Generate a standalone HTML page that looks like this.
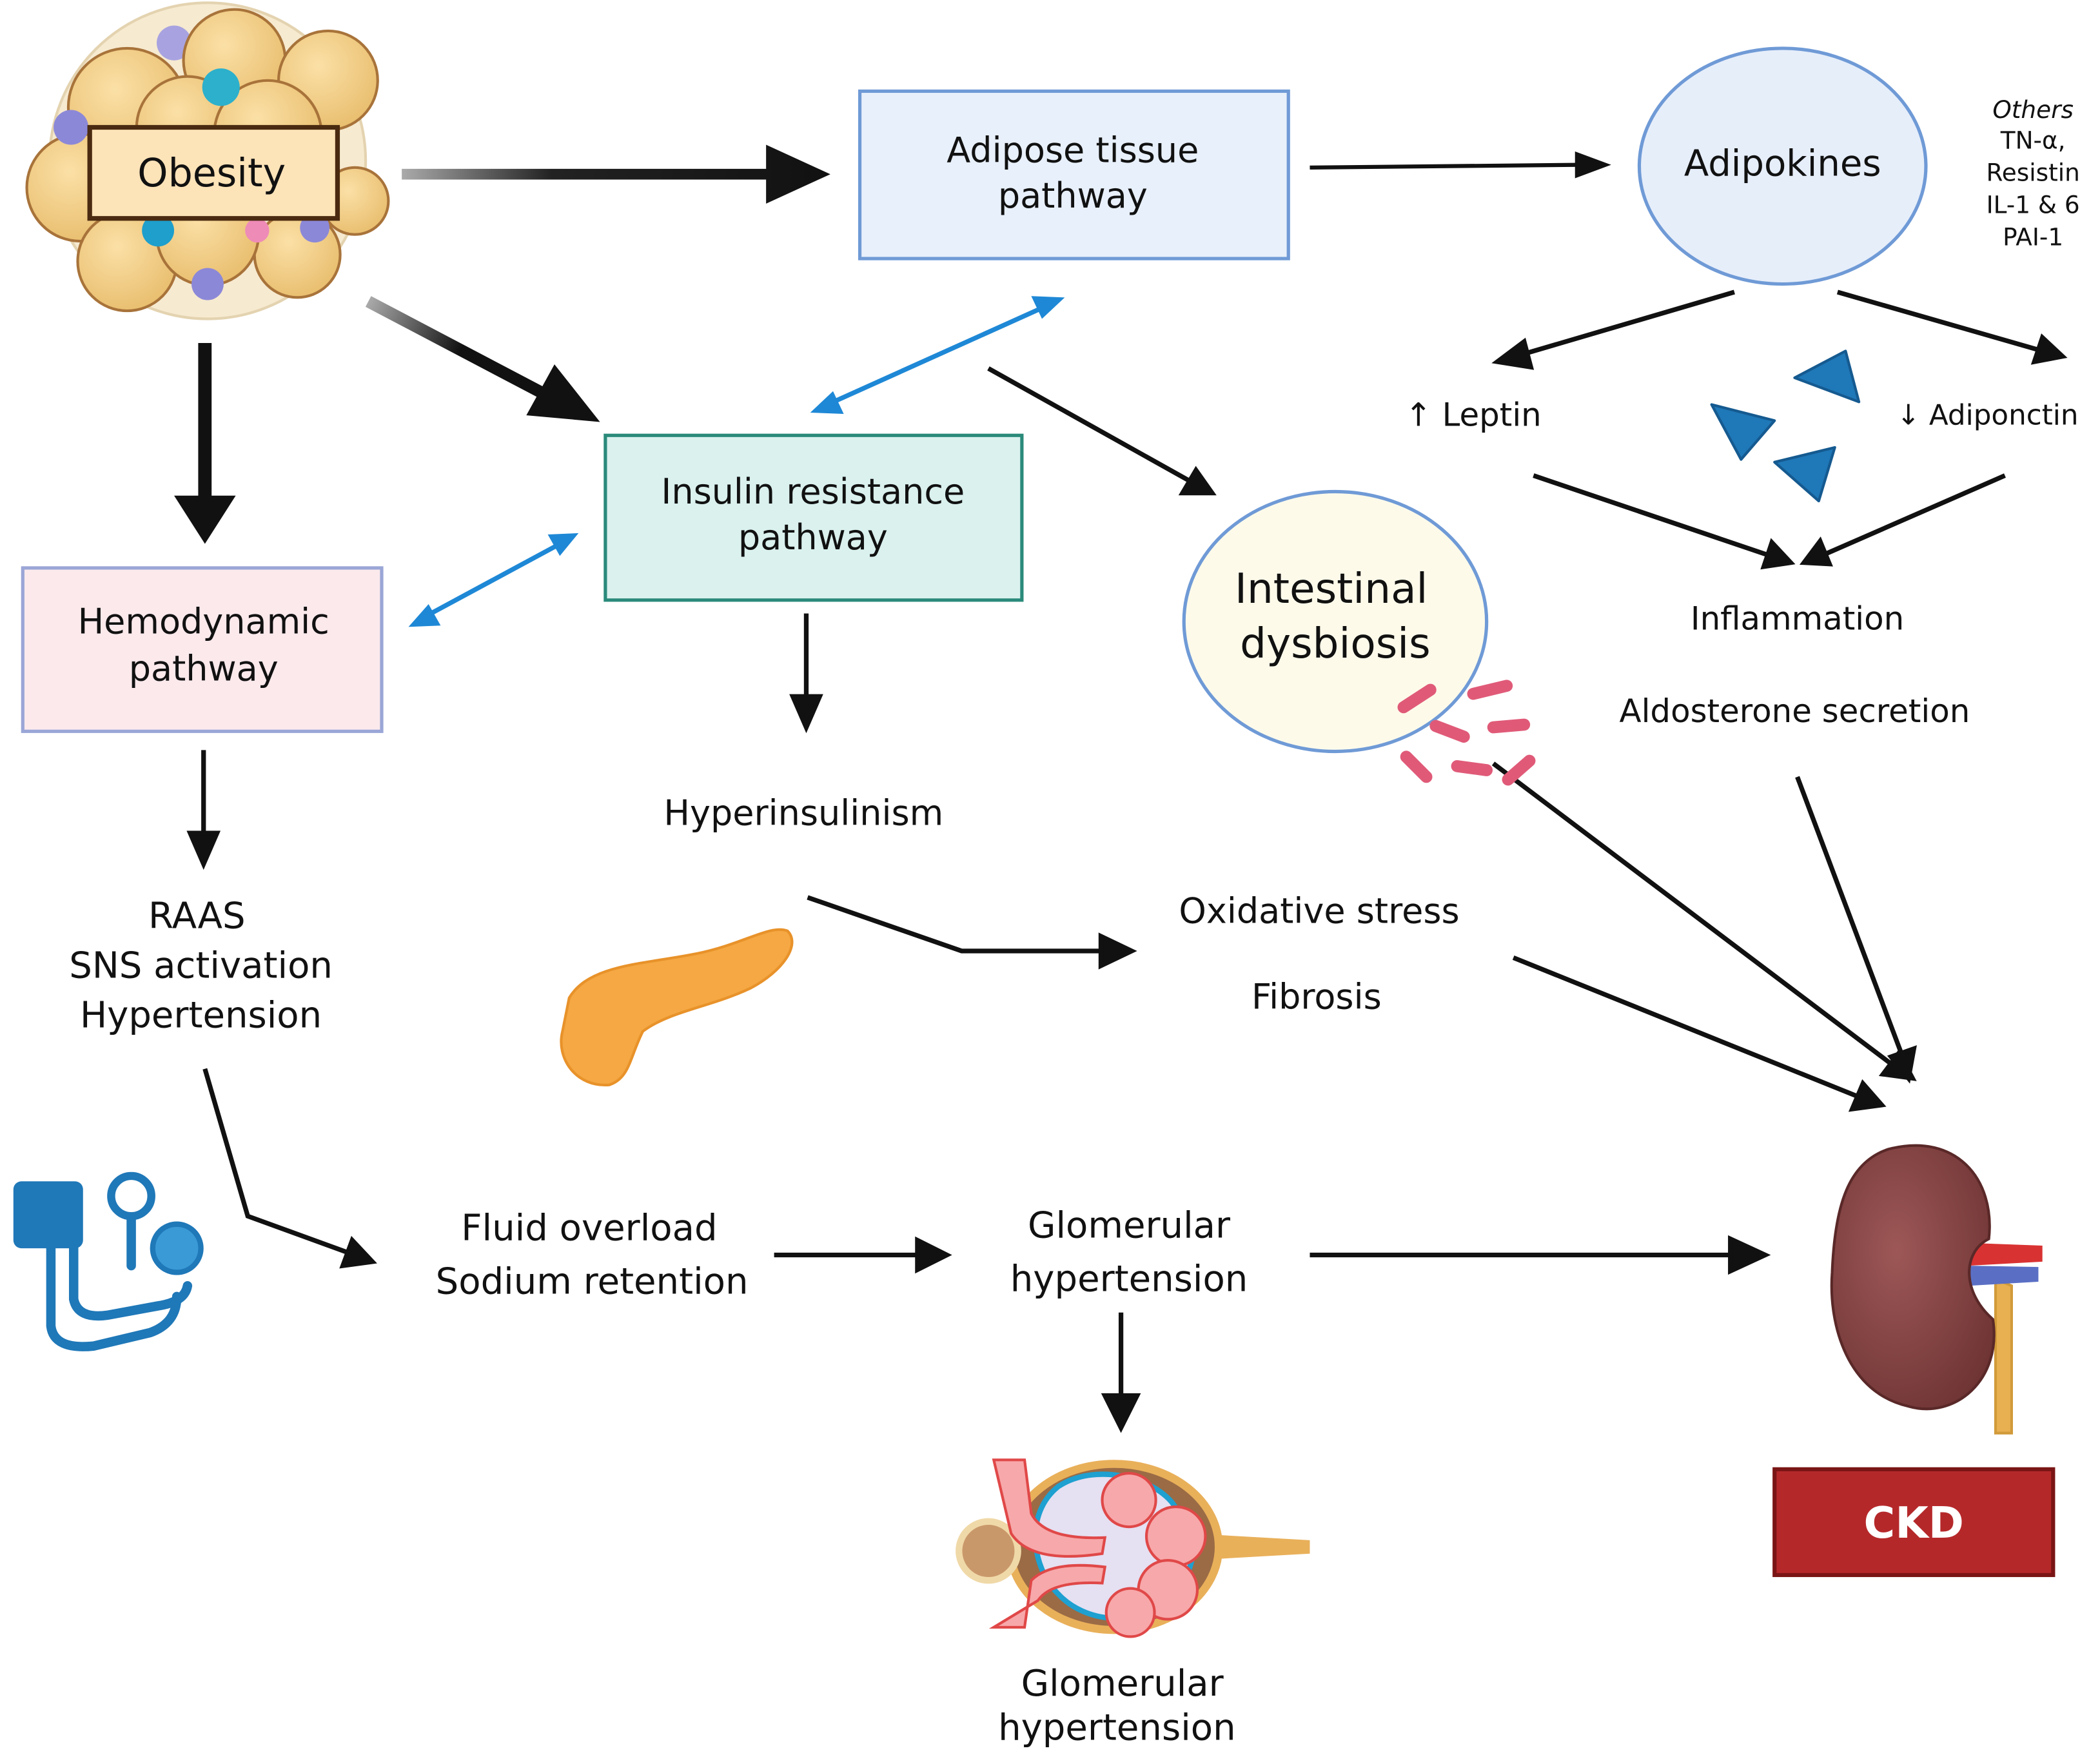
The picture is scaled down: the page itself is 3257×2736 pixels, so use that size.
<!DOCTYPE html>
<html><head><meta charset="utf-8"><style>
html,body{margin:0;padding:0;background:#fff;}
svg{display:block;}
text{font-family:"DejaVu Sans","Liberation Sans",sans-serif;fill:#111;}
</style></head><body>
<svg width="3257" height="2736" viewBox="0 0 1568 1317" xmlns="http://www.w3.org/2000/svg">
<defs>
<linearGradient id="g1" x1="0" x2="1" y1="0" y2="0"><stop offset="0" stop-color="#aaa"/><stop offset="0.35" stop-color="#222"/><stop offset="1" stop-color="#111"/></linearGradient>
<linearGradient id="gd" x1="275" y1="225" x2="448" y2="315" gradientUnits="userSpaceOnUse"><stop offset="0" stop-color="#aaa"/><stop offset="0.4" stop-color="#111"/></linearGradient>
<radialGradient id="fat" cx="0.4" cy="0.35" r="0.7"><stop offset="0" stop-color="#fbe0a6"/><stop offset="1" stop-color="#e8bd6d"/></radialGradient>
<radialGradient id="kid" cx="0.4" cy="0.4" r="0.7"><stop offset="0" stop-color="#9d5757"/><stop offset="1" stop-color="#6f3434"/></radialGradient>
</defs>

<!-- Obesity cluster -->
<g stroke="#a8733a" stroke-width="2">
<circle cx="155" cy="120" r="118" fill="#f6ead0" stroke="#e4d3b0"/>
<circle cx="130" cy="32" r="13" fill="#a8a3e0" stroke="none"/>
<circle cx="205" cy="50" r="12" fill="#a8a3e0" stroke="none"/>
<circle cx="95" cy="80" r="44" fill="url(#fat)"/>
<circle cx="175" cy="45" r="38" fill="url(#fat)"/>
<circle cx="245" cy="60" r="37" fill="url(#fat)"/>
<circle cx="222" cy="190" r="32" fill="url(#fat)"/>
<circle cx="60" cy="140" r="40" fill="url(#fat)"/>
<circle cx="95" cy="195" r="37" fill="url(#fat)"/>
<circle cx="155" cy="175" r="38" fill="url(#fat)"/>
<circle cx="265" cy="150" r="25" fill="url(#fat)"/>
<circle cx="140" cy="95" r="38" fill="url(#fat)"/>
<circle cx="200" cy="100" r="40" fill="url(#fat)"/>
<circle cx="165" cy="65" r="14" fill="#2cb0cc" stroke="none"/>
<circle cx="53" cy="95" r="13" fill="#8c88d8" stroke="none"/>
<circle cx="118" cy="172" r="12" fill="#1e9fcc" stroke="none"/>
<circle cx="155" cy="212" r="12" fill="#8c88d8" stroke="none"/>
<circle cx="235" cy="170" r="11" fill="#8c88d8" stroke="none"/>
<circle cx="192" cy="172" r="9" fill="#ee8bb7" stroke="none"/>
</g>
<rect x="67" y="95" width="185" height="68" fill="#fde3b8" stroke="#4a2a10" stroke-width="3.5"/>
<text x="158" y="139" font-size="29" text-anchor="middle">Obesity</text>

<!-- thick arrows -->
<path d="M300 126 L572 126 L572 108 L620 130 L572 152 L572 134 L300 134 Z" fill="url(#g1)"/>
<line x1="275" y1="225" x2="410" y2="296" stroke="url(#gd)" stroke-width="9"/>
<path d="M448 315 L393 310 L414 272 Z" fill="#111"/>
<path d="M148 256 L158 256 L158 370 L176 370 L153 406 L130 370 L148 370 Z" fill="#111"/>

<!-- Adipose box -->
<rect x="642" y="68" width="320" height="125" fill="#e8f0fb" stroke="#6f9ad6" stroke-width="2.5"/>
<text x="801" y="121" font-size="26" text-anchor="middle">Adipose tissue</text>
<text x="801" y="155" font-size="26" text-anchor="middle">pathway</text>

<g stroke="#111" stroke-width="3" fill="#111">
<line x1="978" y1="125" x2="1180" y2="123"/>
<path d="M1176 113 L1203 123 L1176 133 Z" stroke="none"/>
</g>

<!-- Adipokines -->
<ellipse cx="1331" cy="124" rx="107" ry="88" fill="#e6eefa" stroke="#6f9ad6" stroke-width="2.5"/>
<text x="1331" y="131" font-size="27" text-anchor="middle">Adipokines</text>
<g font-size="18" text-anchor="middle" style="font-family:'Liberation Sans',sans-serif">
<text x="1518" y="88" font-style="italic">Others</text>
<text x="1518" y="111">TN-α,</text>
<text x="1518" y="135">Resistin</text>
<text x="1518" y="159">IL-1 &amp; 6</text>
<text x="1518" y="183">PAI-1</text>
</g>

<g stroke="#111" stroke-width="3.5" fill="#111">
<line x1="1295" y1="218" x2="1135" y2="265"/>
<path d="M1118 270 L1138 255 L1143 274 Z"/>
<line x1="1372" y1="218" x2="1525" y2="262"/>
<path d="M1540 266 L1519 270 L1525 252 Z"/>
<line x1="1145" y1="355" x2="1322" y2="415"/>
<path d="M1337 420 L1317 423 L1323 405 Z"/>
<line x1="1497" y1="355" x2="1362" y2="414"/>
<path d="M1347 420 L1359 404 L1366 421 Z"/>
</g>
<text x="1100" y="318" font-size="24" text-anchor="middle">↑ Leptin</text>
<text x="1484" y="317" font-size="21" text-anchor="middle">↓ Adiponctin</text>
<g fill="#1f78b8" stroke="#155a90" stroke-width="2" stroke-linejoin="round">
<path d="M1340 282 L1378 262 L1388 300 Z"/>
<path d="M1278 302 L1325 314 L1300 343 Z"/>
<path d="M1325 345 L1370 334 L1358 374 Z"/>
</g>
<text x="1342" y="470" font-size="24" text-anchor="middle">Inflammation</text>
<text x="1340" y="539" font-size="24" text-anchor="middle">Aldosterone secretion</text>

<!-- blue double arrows -->
<g stroke="#1e88d6" stroke-width="3.5" fill="#1e88d6">
<line x1="620" y1="301" x2="780" y2="229"/>
<path d="M605 308 L622 292 L630 309 Z" stroke="none"/>
<path d="M795 222 L778 238 L770 221 Z" stroke="none"/>
<line x1="318" y1="460" x2="420" y2="405"/>
<path d="M305 468 L320 451 L329 467 Z" stroke="none"/>
<path d="M432 398 L418 415 L409 399 Z" stroke="none"/>
</g>

<!-- Insulin box -->
<rect x="452" y="325" width="311" height="123" fill="#daf1ee" stroke="#2a8a7a" stroke-width="2.5"/>
<text x="607" y="376" font-size="26" text-anchor="middle">Insulin resistance</text>
<text x="607" y="410" font-size="26" text-anchor="middle">pathway</text>

<g stroke="#111" stroke-width="3.5" fill="#111">
<line x1="738" y1="275" x2="890" y2="360"/>
<path d="M905 368 L883 368 L893 351 Z"/>
</g>

<!-- Intestinal dysbiosis -->
<ellipse cx="997" cy="464" rx="113" ry="97" fill="#fdfaea" stroke="#6f9ad6" stroke-width="2.5"/>
<text x="994" y="450" font-size="31" text-anchor="middle">Intestinal</text>
<text x="997" y="491" font-size="31" text-anchor="middle">dysbiosis</text>

<!-- long arrows to kidney -->
<g stroke="#111" stroke-width="3.5" fill="#111">
<line x1="1115" y1="570" x2="1413" y2="795"/>
<path d="M1428 805 L1406 802 L1418 786 Z"/>
<line x1="1342" y1="580" x2="1421" y2="790"/>
<path d="M1425 805 L1412 789 L1429 783 Z"/>
<line x1="1130" y1="715" x2="1388" y2="819"/>
<path d="M1405 825 L1383 828 L1391 809 Z"/>
</g>
<g stroke="#e05a78" stroke-width="9" stroke-linecap="round">
<line x1="1048" y1="528" x2="1068" y2="515"/>
<line x1="1100" y1="518" x2="1125" y2="512"/>
<line x1="1072" y1="542" x2="1093" y2="550"/>
<line x1="1115" y1="543" x2="1138" y2="541"/>
<line x1="1050" y1="565" x2="1065" y2="580"/>
<line x1="1088" y1="572" x2="1110" y2="575"/>
<line x1="1126" y1="582" x2="1142" y2="568"/>
</g>

<!-- Hemodynamic -->
<rect x="17" y="424" width="268" height="122" fill="#fbe9ec" stroke="#9aa6d6" stroke-width="2.5"/>
<text x="152" y="473" font-size="26" text-anchor="middle">Hemodynamic</text>
<text x="152" y="508" font-size="26" text-anchor="middle">pathway</text>

<g stroke="#111" stroke-width="3.5" fill="#111">
<line x1="602" y1="458" x2="602" y2="525"/>
<path d="M592 520 L602 543 L612 520 Z"/>
<line x1="152" y1="560" x2="152" y2="628"/>
<path d="M142 622 L152 645 L162 622 Z"/>
<polyline points="603,670 718,710 828,710" fill="none"/>
<path d="M822 699 L845 710 L822 721 Z"/>
<polyline points="153,798 185,908 262,936" fill="none"/>
<path d="M278 942 L256 945 L263 926 Z"/>
<line x1="578" y1="937" x2="690" y2="937"/>
<path d="M685 926 L707 937 L685 948 Z"/>
<line x1="978" y1="937" x2="1298" y2="937"/>
<path d="M1292 925 L1318 937 L1292 949 Z"/>
<line x1="837" y1="980" x2="837" y2="1045"/>
<path d="M825 1042 L837 1066 L849 1042 Z"/>
</g>
<text x="600" y="616" font-size="26" text-anchor="middle">Hyperinsulinism</text>
<g font-size="27" text-anchor="middle">
<text x="147" y="693">RAAS</text>
<text x="150" y="730">SNS activation</text>
<text x="150" y="767">Hypertension</text>
</g>
<text x="985" y="689" font-size="26" text-anchor="middle">Oxidative stress</text>
<text x="983" y="753" font-size="26" text-anchor="middle">Fibrosis</text>

<!-- pancreas -->
<path d="M425 745 C440 720 480 720 520 712 C555 705 575 690 588 695 C598 705 585 725 560 738 C530 752 500 755 480 770 C470 790 470 805 455 810 C430 812 415 790 420 770 Z" fill="#f5a843" stroke="#e8922a" stroke-width="2"/>

<!-- BP device -->
<g fill="none" stroke="#1f78b8" stroke-width="7" stroke-linecap="round">
<path d="M38 930 L38 990 Q40 1008 70 1005 L112 995 Q132 988 132 968"/>
<path d="M55 930 L55 970 Q58 985 80 982 L118 975 Q138 972 140 960"/>
<line x1="98" y1="905" x2="98" y2="945"/>
</g>
<rect x="10" y="882" width="52" height="50" rx="6" fill="#1f78b8"/>
<circle cx="98" cy="893" r="15" fill="#fff" stroke="#1f78b8" stroke-width="6"/>
<circle cx="132" cy="932" r="18" fill="#3a9ad6" stroke="#1f78b8" stroke-width="4"/>

<text x="440" y="926" font-size="27" text-anchor="middle">Fluid overload</text>
<text x="442" y="966" font-size="27" text-anchor="middle">Sodium retention</text>
<text x="843" y="924" font-size="27" text-anchor="middle">Glomerular</text>
<text x="843" y="964" font-size="27" text-anchor="middle">hypertension</text>

<!-- glomerulus -->
<path d="M890 1145 L978 1150 L978 1160 L890 1165 Z" fill="#e9b05a"/>
<ellipse cx="832" cy="1155" rx="78" ry="62" fill="#9a6b45" stroke="#e9b05a" stroke-width="6"/>
<circle cx="738" cy="1158" r="22" fill="#c9986a" stroke="#f0d9a8" stroke-width="5"/>
<path d="M790 1110 C820 1090 870 1105 880 1130 C900 1150 890 1180 870 1195 C850 1215 810 1212 790 1190 C770 1170 765 1130 790 1110 Z" fill="#e5e0f2" stroke="#1ea0d0" stroke-width="4"/>
<g fill="#f7a8aa" stroke="#e04848" stroke-width="2">
<circle cx="843" cy="1120" r="20"/>
<circle cx="878" cy="1147" r="22"/>
<circle cx="872" cy="1187" r="22"/>
<circle cx="844" cy="1204" r="18"/>
<path d="M742 1090 L765 1090 L770 1130 Q780 1150 825 1148 L823 1160 Q770 1168 755 1145 Z"/>
<path d="M742 1215 L765 1215 L770 1180 Q785 1165 825 1170 L823 1182 Q785 1180 775 1195 Z"/>
</g>
<text x="838" y="1266" font-size="27" text-anchor="middle">Glomerular</text>
<text x="834" y="1299" font-size="27" text-anchor="middle">hypertension</text>

<!-- kidney -->
<path d="M1490 955 L1490 1070 L1502 1070 L1502 960 Z" fill="#e8b050" stroke="#d19a3a" stroke-width="2"/>
<path d="M1470 928 L1525 930 L1525 942 L1470 945 Z" fill="#d93232"/>
<path d="M1470 945 L1522 946 L1522 957 L1470 960 Z" fill="#5a6fc4"/>
<path d="M1410 858 C1460 845 1490 880 1485 925 C1465 935 1465 965 1488 985 C1495 1030 1460 1060 1425 1050 C1380 1040 1365 990 1368 950 C1370 900 1380 868 1410 858 Z" fill="url(#kid)" stroke="#5a2828" stroke-width="2"/>

<!-- CKD -->
<rect x="1325" y="1097" width="208" height="79" fill="#b5282a" stroke="#7a1515" stroke-width="3"/>
<text x="1429" y="1148" font-size="32" font-weight="bold" text-anchor="middle" style="fill:#fff">CKD</text>
</svg>
</body></html>
